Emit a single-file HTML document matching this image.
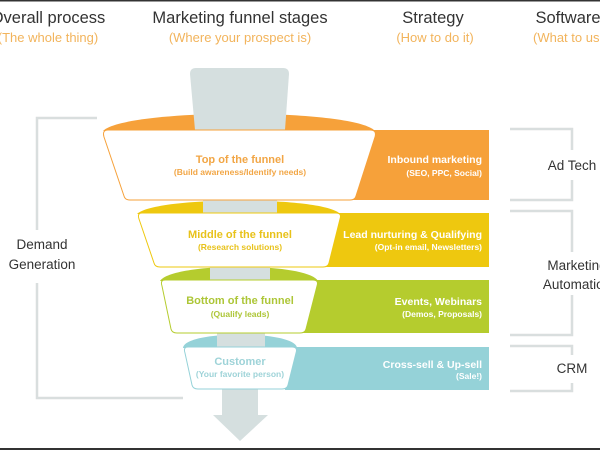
<!DOCTYPE html>
<html><head><meta charset="utf-8"><style>
html,body{margin:0;padding:0;background:#fff;}
svg{display:block;}
text{font-family:"Liberation Sans",sans-serif;}
</style></head><body>
<svg width="600" height="450" viewBox="0 0 600 450" xmlns="http://www.w3.org/2000/svg">
<rect x="0" y="0" width="600" height="450" fill="#fff"/>
<rect x="0" y="0" width="600" height="1.5" fill="#333"/>
<rect x="0" y="448" width="600" height="2" fill="#333"/>
<!-- headers -->
<g fill="#333" font-size="16.5" text-anchor="middle">
<text x="48" y="23">Overall process</text>
<text x="240" y="23">Marketing funnel stages</text>
<text x="433" y="23">Strategy</text>
<text x="568" y="23">Software</text>
</g>
<g fill="#F2B45C" font-size="13" text-anchor="middle">
<text x="48" y="42">(The whole thing)</text>
<text x="240" y="42">(Where your prospect is)</text>
<text x="435" y="42">(How to do it)</text>
<text x="572" y="42">(What to use)</text>
</g>
<!-- left bracket -->
<g stroke="#D9DEDE" stroke-width="2.5" fill="none">
<polyline points="97,118 37,118 37,230"/>
<polyline points="37,283 37,398 183,398"/>
<polyline points="510,129 572,129 572,150"/>
<polyline points="572,180 572,200 510,200"/>
<polyline points="510,211 572,211 572,252"/>
<polyline points="572,295 572,335 510,335"/>
<polyline points="510,346 572,346 572,355"/>
<polyline points="572,383 572,391 510,391"/>
</g>
<g fill="#333" font-size="13.5" text-anchor="middle">
<text x="42" y="249">Demand</text>
<text x="42" y="269">Generation</text>
<text x="572" y="170">Ad Tech</text>
<text x="577" y="270">Marketing</text>
<text x="577" y="289">Automation</text>
<text x="572" y="373">CRM</text>
</g>
<!-- domes -->
<path d="M103,131 C125,108 355,108 375,131 Z" fill="#F6A13A"/>
<path d="M137,214 C155,196 325,196 340,214 Z" fill="#EEC80F"/>
<path d="M160,281 C172,262 308,262 318,281 Z" fill="#B5CC2E"/>
<path d="M183,348 C184,330 296,330 297,348 Z" fill="#95D2D8"/>
<!-- gray column -->
<path d="M190,74 Q190,68 196,68 L283,68 Q289,68 289,74 L285,130 L195,130 Z" fill="#D5DFDF"/>
<rect x="203" y="198" width="74" height="16" fill="#D5DFDF"/>
<rect x="210" y="265" width="60" height="16" fill="#D5DFDF"/>
<rect x="217" y="331" width="48" height="17" fill="#D5DFDF"/>
<path d="M222,388 L258,388 L258,415 L268,415 L240,441 L213,415 L222,415 Z" fill="#D5DFDF"/>
<!-- bands & trapezoids -->
<rect x="340" y="130" width="149" height="70" fill="#F6A13A"/>
<path d="M108,130 L370,130 Q377,130 375,137 L356,196 Q355,200 350,200 L130,200 Q125,200 124,196 L104,137 Q102,130 108,130 Z" fill="#fff" stroke="#F6A13A" stroke-width="1"/>
<rect x="320" y="213" width="169" height="54" fill="#EEC80F"/>
<path d="M142,213 L336,213 Q342,213 340,219 L329,263 Q328,267 323,267 L160,267 Q155,267 154,263 L139,219 Q137,213 142,213 Z" fill="#fff" stroke="#EEC80F" stroke-width="1"/>
<rect x="300" y="280" width="189" height="53" fill="#B5CC2E"/>
<path d="M165,280 L313,280 Q319,280 317,286 L306,329 Q305,333 300,333 L177,333 Q172,333 171,329 L162,286 Q160,280 165,280 Z" fill="#fff" stroke="#B5CC2E" stroke-width="1"/>
<rect x="285" y="347" width="204" height="43" fill="#95D2D8"/>
<path d="M188,347 L292,347 Q298,347 296,353 L288,385 Q287,389 282,389 L198,389 Q193,389 192,385 L185,353 Q183,347 188,347 Z" fill="#fff" stroke="#95D2D8" stroke-width="1"/>
<!-- funnel text -->
<g text-anchor="middle" font-weight="bold">
<text x="240" y="163" font-size="11" fill="#F2A645">Top of the funnel</text>
<text x="240" y="175" font-size="8.5" fill="#F2A645">(Build awareness/Identify needs)</text>
<text x="240" y="238" font-size="11" fill="#E8C21A">Middle of the funnel</text>
<text x="240" y="250" font-size="8.5" fill="#E8C21A">(Research solutions)</text>
<text x="240" y="304" font-size="11" fill="#ADC637">Bottom of the funnel</text>
<text x="240" y="317" font-size="8.5" fill="#ADC637">(Qualify leads)</text>
<text x="240" y="365" font-size="11" fill="#9ED3D8">Customer</text>
<text x="240" y="377" font-size="8.5" fill="#9ED3D8">(Your favorite person)</text>
</g>
<g text-anchor="end" font-weight="bold" fill="#fff">
<text x="482" y="163" font-size="10.5">Inbound marketing</text>
<text x="482" y="176" font-size="8.5">(SEO, PPC, Social)</text>
<text x="482" y="238" font-size="10.5">Lead nurturing &amp; Qualifying</text>
<text x="482" y="250" font-size="8.5">(Opt-in email, Newsletters)</text>
<text x="482" y="305" font-size="10.5">Events, Webinars</text>
<text x="482" y="317" font-size="8.5">(Demos, Proposals)</text>
<text x="482" y="368" font-size="10.5">Cross-sell &amp; Up-sell</text>
<text x="482" y="379" font-size="8.5">(Sale!)</text>
</g>
</svg>
</body></html>
